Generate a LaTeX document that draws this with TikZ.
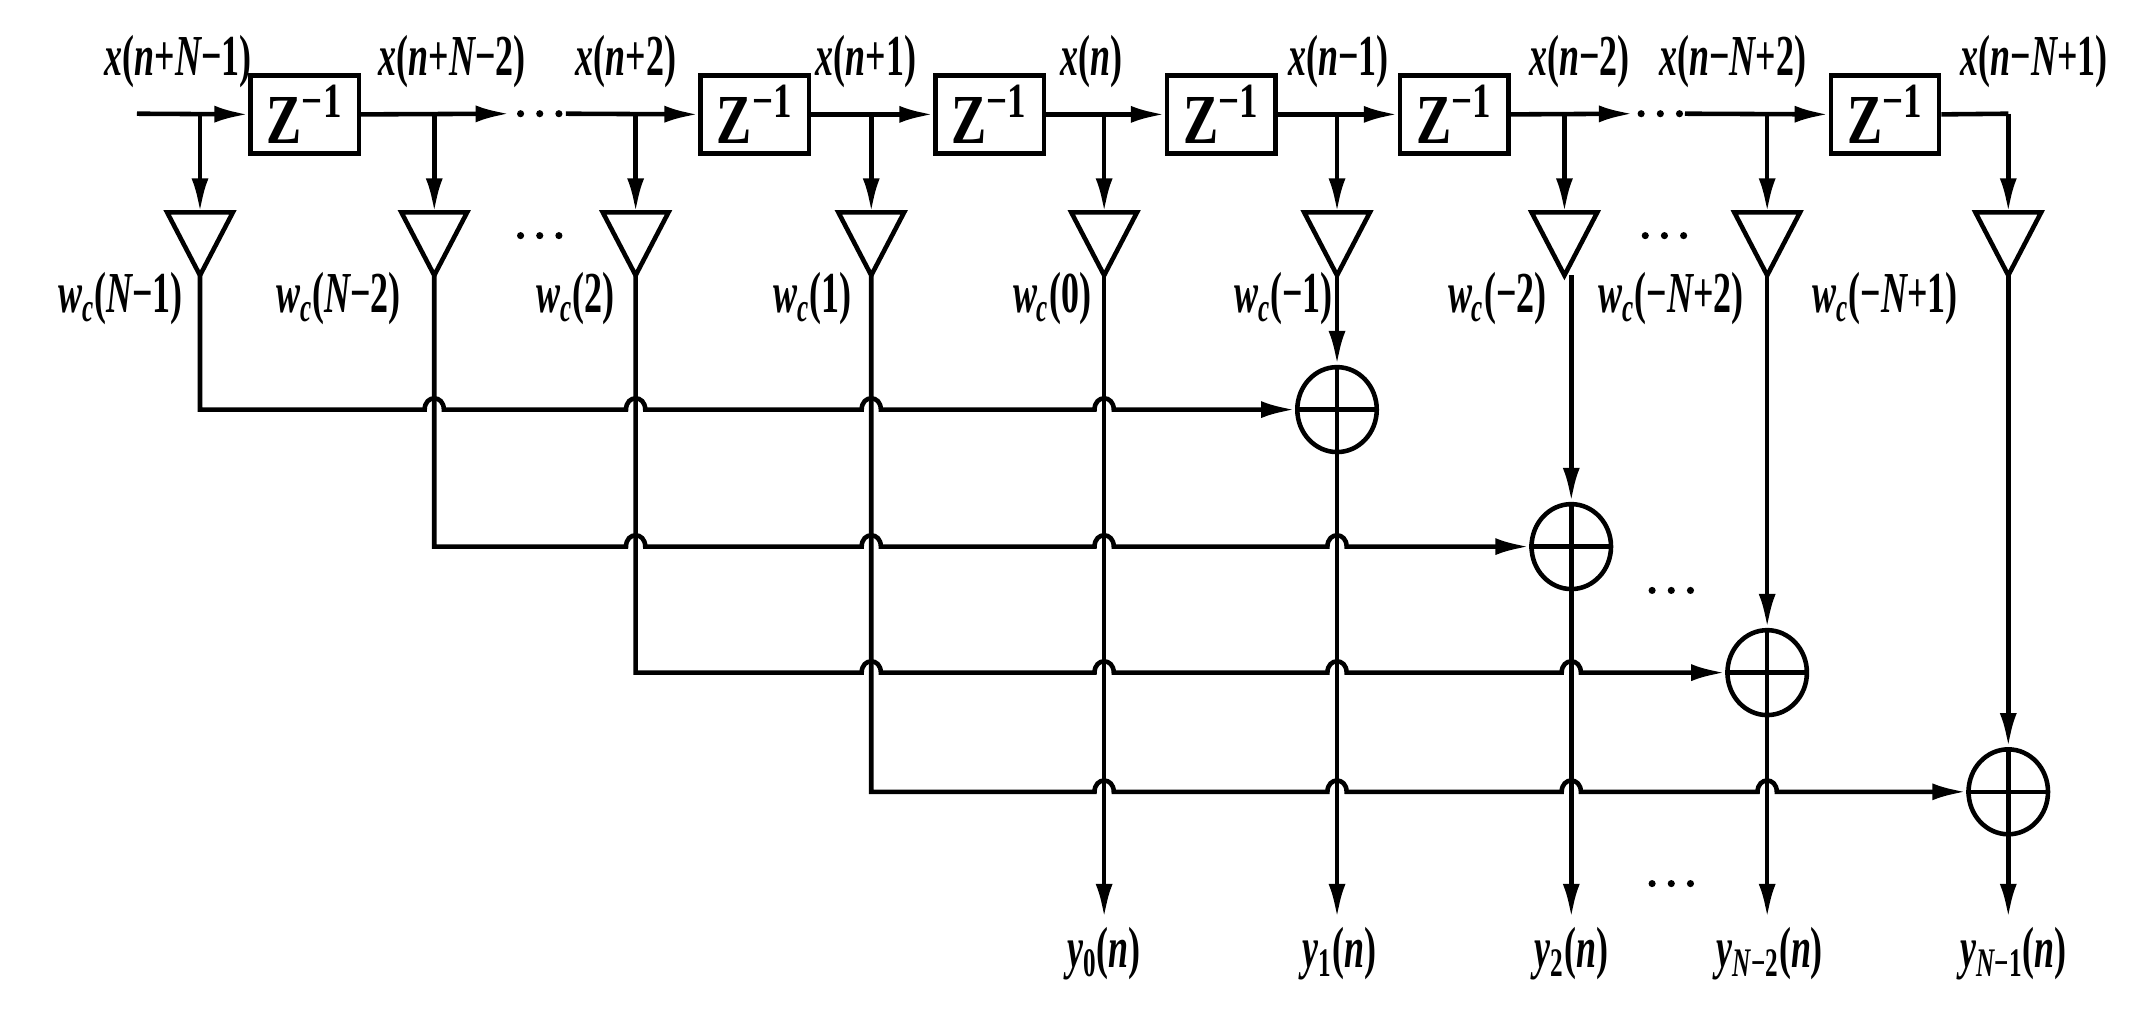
\documentclass[tikz,border=0pt]{standalone}
\usepackage{fontspec}
\setmainfont{Liberation Serif}
\usetikzlibrary{arrows.meta,shapes.geometric}
\newcommand\lb[1]{\scalebox{0.62}[1]{\fontsize{16.5}{18}\selectfont\bfseries #1}}
\newcommand\I[1]{{\bfseries\itshape #1}}
\begin{document}
\begin{tikzpicture}[x=0.0137cm,y=-0.0137cm,line width=1.3pt,
  arr/.style={-{Latex[length=0.34cm,width=0.17cm]}},
  box/.style={draw,minimum width=79*0.0137cm,minimum height=57*0.0137cm,inner sep=0pt},
  add/.style={draw,ellipse,minimum width=58*0.0137cm,minimum height=62*0.0137cm,inner sep=0pt},
  lab/.style={inner sep=0pt},
  dots/.pic={\foreach \k in {-14,0,14} \fill (\k,0) circle (2.6);}]
\useasboundingbox (0,0) rectangle (1568,736.6);
% boxes
\foreach \n/\x in {1/222.5,2/551,3/722.5,4/891.5,5/1061.5,6/1376}
  \node[box] (z\n) at (\x,83.5) {\scalebox{0.75}[1]{\fontsize{20}{20}\selectfont\bfseries Z\textsuperscript{−1}}};
% signal line coordinates
\coordinate (in) at (100,83);
\foreach \i/\x in {1/146,2/317,3/464,4/636,5/806,6/976,7/1142,8/1290}
  \coordinate (s\i) at (\x,83);
\coordinate (s9) at (1466,83);
\coordinate (d1a) at (372,83); \coordinate (d1b) at (413,83);
\coordinate (d2a) at (1192,83); \coordinate (d2b) at (1230,83);
\draw[arr] (in) -- (z1.west);
\draw[arr] (z1.east) -- (d1a);
\pic at (394,83) {dots};
\draw[arr] (d1b) -- (z2.west);
\draw[arr] (z2.east) -- (z3.west);
\draw[arr] (z3.east) -- (z4.west);
\draw[arr] (z4.east) -- (z5.west);
\draw[arr] (z5.east) -- (d2a);
\pic at (1212,83) {dots};
\draw[arr] (d2b) -- (z6.west);
\draw (z6.east) -- (s9);
% triangles
\foreach \i/\x in {1/146,2/317,3/464,4/636,5/806,6/976,7/1142,8/1290,9/1466}{
  \coordinate (tt\i) at (\x,155);
  \coordinate (tb\i) at (\x,201);
  \draw (\x-24,155) -- (\x+24,155) -- (tb\i) -- cycle;
  \draw[arr] (s\i) -- (tt\i);
}
\pic at (394,172) {dots};
\pic at (1215,172) {dots};
% adders
\node[add] (a1) at (976,299) {};
\node[add] (a2) at (1147,399) {};
\node[add] (a3) at (1290,491) {};
\node[add] (a4) at (1466,578) {};
\foreach \a in {1,2,3,4}{
  \draw (a\a.west) -- (a\a.east);
  \draw (a\a.north) -- (a\a.south);
}
% outputs
\foreach \i/\x in {5/806,6/976,7/1147,8/1290,9/1466}
  \coordinate (o\i) at (\x,670);
\draw[arr] (tb5) -- (o5);
\draw[arr] (tb6) -- (a1.north); \draw[arr] (a1.south) -- (o6);
\draw[arr] (1147,201) -- (a2.north); \draw[arr] (a2.south) -- (o7);
\draw[arr] (tb8) -- (a3.north); \draw[arr] (a3.south) -- (o8);
\draw[arr] (tb9) -- (a4.north); \draw[arr] (a4.south) -- (o9);
\pic at (1220,431) {dots};
\pic at (1220,645) {dots};
% buses with hops
\def\hop#1#2{-- (#1-7,#2) .. controls (#1-7,#2-11) and (#1+7,#2-11) .. (#1+7,#2)}
\draw[arr] (tb1) -- (146,299) \hop{317}{299} \hop{464}{299} \hop{636}{299} \hop{806}{299} -- (a1.west);
\draw[arr] (tb2) -- (317,399) \hop{464}{399} \hop{636}{399} \hop{806}{399} \hop{976}{399} -- (a2.west);
\draw[arr] (tb3) -- (464,491) \hop{636}{491} \hop{806}{491} \hop{976}{491} \hop{1147}{491} -- (a3.west);
\draw[arr] (tb4) -- (636,578) \hop{806}{578} \hop{976}{578} \hop{1147}{578} \hop{1290}{578} -- (a4.west);
% labels
\node[lab] (lx1) at (130,45) {\lb{\I{x}(\I{n}+\I{N}−1)}};
\node[lab] (lx2) at (330,45) {\lb{\I{x}(\I{n}+\I{N}−2)}};
\node[lab] (lx3) at (457,45) {\lb{\I{x}(\I{n}+2)}};
\node[lab] (lx4) at (632,45) {\lb{\I{x}(\I{n}+1)}};
\node[lab] (lx5) at (797,45) {\lb{\I{x}(\I{n})}};
\node[lab] (lx6) at (977,45) {\lb{\I{x}(\I{n}−1)}};
\node[lab] (lx7) at (1153,45) {\lb{\I{x}(\I{n}−2)}};
\node[lab] (lx8) at (1265,45) {\lb{\I{x}(\I{n}−\I{N}+2)}};
\node[lab] (lx9) at (1485,45) {\lb{\I{x}(\I{n}−\I{N}+1)}};
\newcommand\wc[1]{\lb{\I{w}\textsubscript{\I{c}}(#1)}}
\node[lab] (lw1) at (88,218) {\wc{\I{N}−1}};
\node[lab] (lw2) at (247,218) {\wc{\I{N}−2}};
\node[lab] (lw3) at (420,218) {\wc{2}};
\node[lab] (lw4) at (593,218) {\wc{1}};
\node[lab] (lw5) at (768,218) {\wc{0}};
\node[lab] (lw6) at (937,218) {\wc{−1}};
\node[lab] (lw7) at (1093,218) {\wc{−2}};
\node[lab] (lw8) at (1220,218) {\wc{−\I{N}+2}};
\node[lab] (lw9) at (1376,218) {\wc{−\I{N}+1}};
\newcommand\yy[1]{\lb{\I{y}\textsubscript{#1}(\I{n})}}
\node[lab] (ly5) at (806,696) {\yy{0}};
\node[lab] (ly6) at (978,696) {\yy{1}};
\node[lab] (ly7) at (1147,696) {\yy{2}};
\node[lab] (ly8) at (1292,696) {\yy{\I{N}−2}};
\node[lab] (ly9) at (1470,696) {\yy{\I{N}−1}};
\end{tikzpicture}
\end{document}
